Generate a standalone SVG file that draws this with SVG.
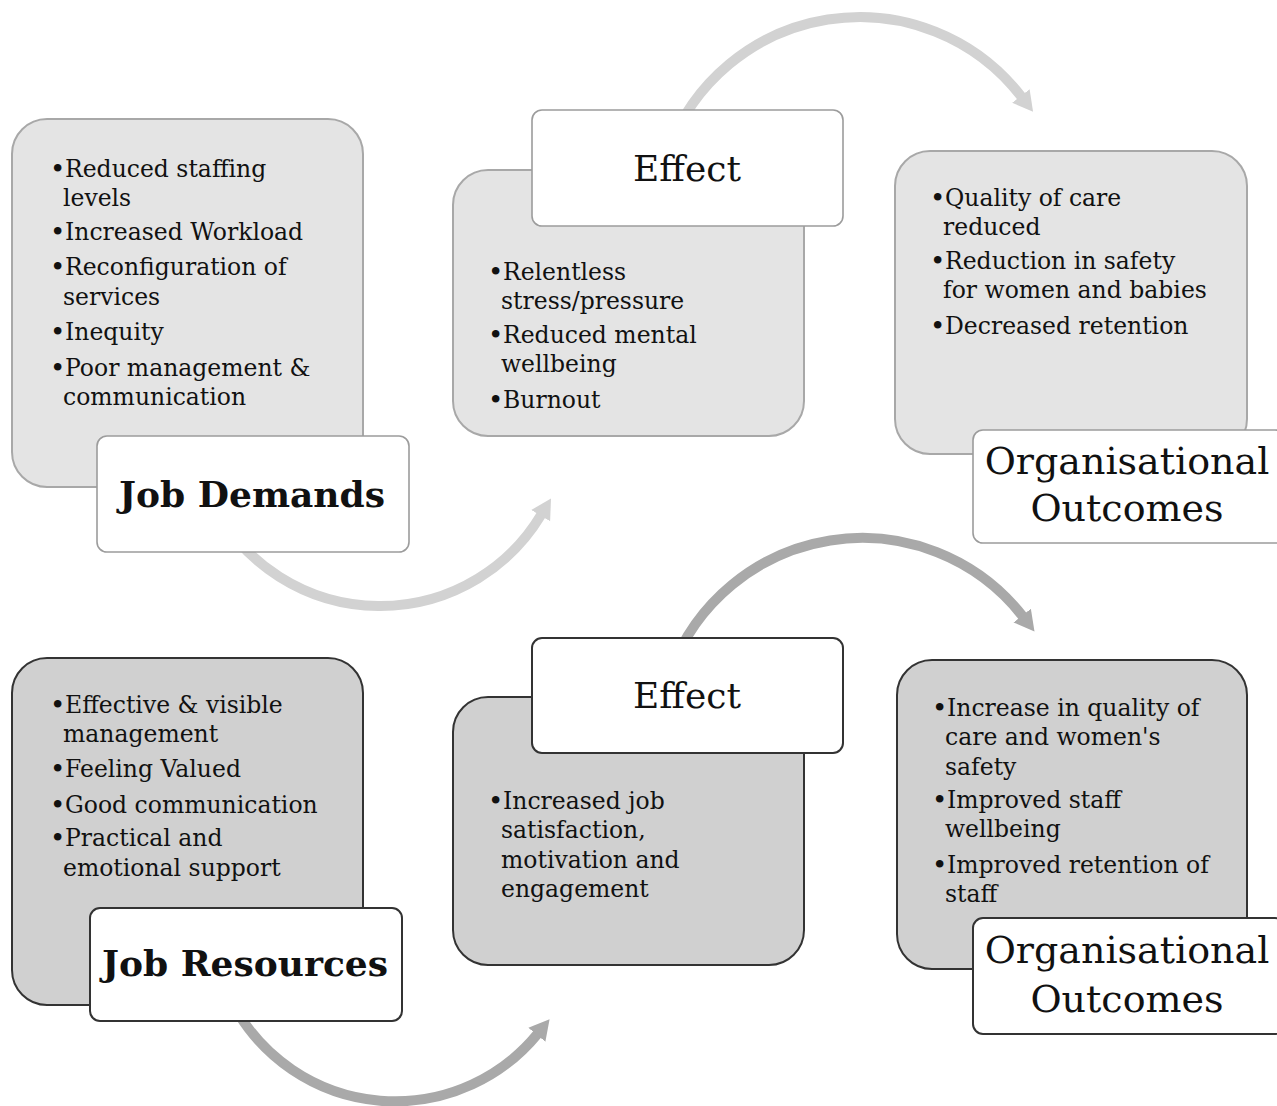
<svg xmlns="http://www.w3.org/2000/svg" width="1277" height="1106" viewBox="0 0 1277 1106">
  <defs>
    <style>
      text { font-family: "DejaVu Serif", "Liberation Serif", serif; fill: #111; }
      .item { font-size: 23.5px; }
      .dot { font-size: 26px; }
      .head { font-size: 36px; text-anchor: middle; }
      .head-b { font-size: 36px; font-weight: bold; text-anchor: middle; }
      .org { font-size: 38px; text-anchor: middle; }
      .body-lt { fill: #e4e4e4; stroke: #a8a8a8; stroke-width: 2; }
      .label-lt { fill: #ffffff; stroke: #9c9c9c; stroke-width: 1.6; }
      .body-dk { fill: #d0d0d0; stroke: #333333; stroke-width: 2; }
      .label-dk { fill: #ffffff; stroke: #333333; stroke-width: 2; }
      .arc-lt { fill: none; stroke: #d2d2d2; stroke-width: 10; marker-end: url(#head-lt); }
      .arc-dk { fill: none; stroke: #a9a9a9; stroke-width: 10; marker-end: url(#head-dk); }
    </style>
    <marker id="head-lt" markerUnits="userSpaceOnUse" viewBox="0 -12 22 24" markerWidth="22" markerHeight="24" refX="1" refY="0" orient="auto">
      <path d="M0,-11 L20,0 L0,11 Z" fill="#d2d2d2"/>
    </marker>
    <marker id="head-dk" markerUnits="userSpaceOnUse" viewBox="0 -12 22 24" markerWidth="22" markerHeight="24" refX="1" refY="0" orient="auto">
      <path d="M0,-11 L20,0 L0,11 Z" fill="#a9a9a9"/>
    </marker>
  </defs>

  <rect x="0" y="0" width="1277" height="1106" fill="#ffffff"/>

  <!-- curved arrows between the stages -->
  <g id="connectors">
    <path class="arc-lt" d="M217.2,512 A188,188 0 0 0 541.2,514.8"/>
    <path class="arc-lt" d="M667.4,152.9 A204,204 0 0 1 1021.5,96.8"/>
    <path class="arc-dk" d="M235.7,1009 A184,184 0 0 0 537.5,1034"/>
    <path class="arc-dk" d="M670.3,672.2 A204,204 0 0 1 1022.8,616.4"/>
  </g>

  <!-- top row: demands pathway -->
  <g id="job-demands">
    <rect class="body-lt" x="12" y="119" width="351" height="368" rx="35"/>
    <text class="dot" x="50" y="178">•</text>
    <text class="item" x="65" y="177">Reduced staffing</text>
    <text class="item" x="63" y="206">levels</text>
    <text class="dot" x="50" y="241">•</text>
    <text class="item" x="65" y="240">Increased Workload</text>
    <text class="dot" x="50" y="276">•</text>
    <text class="item" x="65" y="275">Reconfiguration of</text>
    <text class="item" x="63" y="305">services</text>
    <text class="dot" x="50" y="341">•</text>
    <text class="item" x="65" y="340">Inequity</text>
    <text class="dot" x="50" y="377">•</text>
    <text class="item" x="65" y="376">Poor management &amp;</text>
    <text class="item" x="63" y="405">communication</text>
    <rect class="label-lt" x="97" y="436" width="312" height="116" rx="10"/>
    <text class="head-b" x="252" y="507">Job Demands</text>
  </g>

  <g id="effect-negative">
    <rect class="body-lt" x="453" y="170" width="351" height="266" rx="35"/>
    <text class="dot" x="488" y="281">•</text>
    <text class="item" x="503" y="280">Relentless</text>
    <text class="item" x="501" y="309">stress/pressure</text>
    <text class="dot" x="488" y="344">•</text>
    <text class="item" x="503" y="343">Reduced mental</text>
    <text class="item" x="501" y="372">wellbeing</text>
    <text class="dot" x="488" y="409">•</text>
    <text class="item" x="503" y="408">Burnout</text>
    <rect class="label-lt" x="532" y="110" width="311" height="116" rx="10"/>
    <text class="head" x="687" y="181">Effect</text>
  </g>

  <g id="outcomes-negative">
    <rect class="body-lt" x="895" y="151" width="352" height="303" rx="35"/>
    <text class="dot" x="930" y="207">•</text>
    <text class="item" x="945" y="206">Quality of care</text>
    <text class="item" x="943" y="235">reduced</text>
    <text class="dot" x="930" y="270">•</text>
    <text class="item" x="945" y="269">Reduction in safety</text>
    <text class="item" x="943" y="298">for women and babies</text>
    <text class="dot" x="930" y="335">•</text>
    <text class="item" x="945" y="334">Decreased retention</text>
    <rect class="label-lt" x="973" y="430" width="312" height="113" rx="10"/>
    <text class="org" x="1127" y="474">Organisational</text>
    <text class="org" x="1127" y="521">Outcomes</text>
  </g>

  <!-- bottom row: resources pathway -->
  <g id="job-resources">
    <rect class="body-dk" x="12" y="658" width="351" height="347" rx="35"/>
    <text class="dot" x="50" y="714">•</text>
    <text class="item" x="65" y="713">Effective &amp; visible</text>
    <text class="item" x="63" y="742">management</text>
    <text class="dot" x="50" y="778">•</text>
    <text class="item" x="65" y="777">Feeling Valued</text>
    <text class="dot" x="50" y="814">•</text>
    <text class="item" x="65" y="813">Good communication</text>
    <text class="dot" x="50" y="847">•</text>
    <text class="item" x="65" y="846">Practical and</text>
    <text class="item" x="63" y="876">emotional support</text>
    <rect class="label-dk" x="90" y="908" width="312" height="113" rx="10"/>
    <text class="head-b" x="245" y="976">Job Resources</text>
  </g>

  <g id="effect-positive">
    <rect class="body-dk" x="453" y="697" width="351" height="268" rx="35"/>
    <text class="dot" x="488" y="810">•</text>
    <text class="item" x="503" y="809">Increased job</text>
    <text class="item" x="501" y="838">satisfaction,</text>
    <text class="item" x="501" y="868">motivation and</text>
    <text class="item" x="501" y="897">engagement</text>
    <rect class="label-dk" x="532" y="638" width="311" height="115" rx="10"/>
    <text class="head" x="687" y="708">Effect</text>
  </g>

  <g id="outcomes-positive">
    <rect class="body-dk" x="897" y="660" width="350" height="309" rx="35"/>
    <text class="dot" x="932" y="717">•</text>
    <text class="item" x="947" y="716">Increase in quality of</text>
    <text class="item" x="945" y="745">care and women's</text>
    <text class="item" x="945" y="775">safety</text>
    <text class="dot" x="932" y="809">•</text>
    <text class="item" x="947" y="808">Improved staff</text>
    <text class="item" x="945" y="837">wellbeing</text>
    <text class="dot" x="932" y="874">•</text>
    <text class="item" x="947" y="873">Improved retention of</text>
    <text class="item" x="945" y="902">staff</text>
    <rect class="label-dk" x="973" y="918" width="312" height="116" rx="10"/>
    <text class="org" x="1127" y="963">Organisational</text>
    <text class="org" x="1127" y="1012">Outcomes</text>
  </g>
</svg>
